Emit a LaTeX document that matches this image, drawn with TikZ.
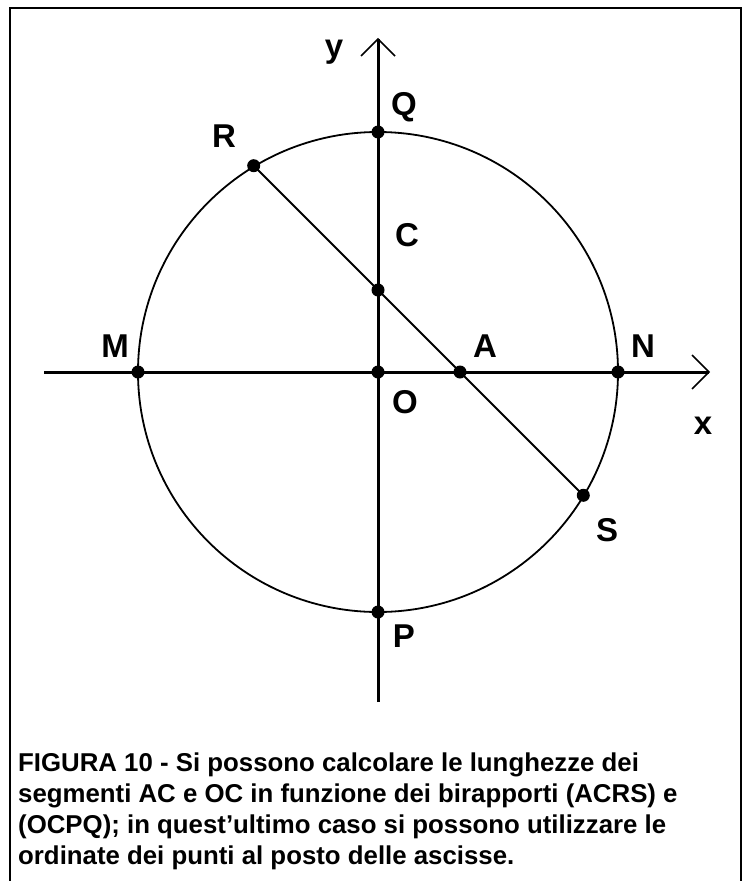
\documentclass[tikz,border=0pt]{standalone}
\usepackage{fontspec}
\setmainfont{Liberation Sans}
\begin{document}
\begin{tikzpicture}[x=1pt,y=-1pt]
\useasboundingbox (0,0) rectangle (744,881);
\tikzset{
  frameline/.style={line width=2.5pt},
  axisline/.style={line width=3pt},
  thinline/.style={line width=1.8pt},
  chev/.style={line width=1.6pt},
  dot/.style={circle, fill=black, inner sep=0pt, minimum size=13pt},
  lblb/.style={font=\fontsize{33}{35}\selectfont\bfseries, inner sep=0pt},
  lblr/.style={font=\fontsize{33}{35}\selectfont\bfseries, inner sep=0pt},
  captext/.style={font=\fontsize{25.8}{31}\selectfont\bfseries, inner sep=0pt, anchor=base west}
}
% frame (open at the bottom)
\coordinate (f1) at (10,881);
\coordinate (f2) at (10,8);
\coordinate (f3) at (741,8);
\coordinate (f4) at (741,881);
\draw[frameline] (f1) -- (f2) -- (f3) -- (f4);
% axes
\coordinate (xs) at (44,372);
\coordinate (xe) at (709,372);
\coordinate (ys) at (378,702);
\coordinate (ye) at (378,39);
\coordinate (xw1) at (692,355);
\coordinate (xw2) at (692,389);
\coordinate (yw1) at (361,56);
\coordinate (yw2) at (395,56);
\draw[axisline] (xs) -- (xe);
\draw[axisline] (ys) -- (ye);
\draw[chev] (xw1) -- (xe) -- (xw2);
\draw[chev] (yw1) -- (ye) -- (yw2);
% circle
\coordinate (Oc) at (378,372);
\draw[thinline] (Oc) circle[radius=240];
% points
\node[dot] (Q) at (378,132) {};
\node[dot] (P) at (378,612) {};
\node[dot] (M) at (138,372) {};
\node[dot] (N) at (618,372) {};
\node[dot] (O) at (378,372) {};
\node[dot] (C) at (378,290) {};
\node[dot] (A) at (460,372) {};
\node[dot] (R) at (253.7,165.7) {};
\node[dot] (S) at (583.3,495.3) {};
\draw[thinline] (R.center) -- (S.center);
% labels
\node[lblb] (ly) at (334,52) {y};
\node[lblb] (lQ) at (404,107) {Q};
\node[lblr] (lR) at (224,136) {R};
\node[lblr] (lC) at (407,235) {C};
\node[lblb] (lM) at (115,346) {M};
\node[lblb] (lA) at (485,346) {A};
\node[lblb] (lN) at (643,346) {N};
\node[lblr] (lO) at (405,402) {O};
\node[lblb] (lx) at (703,426) {x};
\node[lblr] (lS) at (607,530) {S};
\node[lblr] (lP) at (404,636) {P};
% caption
\node[captext] (cap1) at (18,771) {FIGURA 10 - Si possono calcolare le lunghezze dei};
\node[captext] (cap2) at (18,802) {segmenti AC e OC in funzione dei birapporti (ACRS) e};
\node[captext] (cap3) at (18,833) {(OCPQ); in quest’ultimo caso si possono utilizzare le};
\node[captext] (cap4) at (18,864) {ordinate dei punti al posto delle ascisse.};
\end{tikzpicture}
\end{document}
